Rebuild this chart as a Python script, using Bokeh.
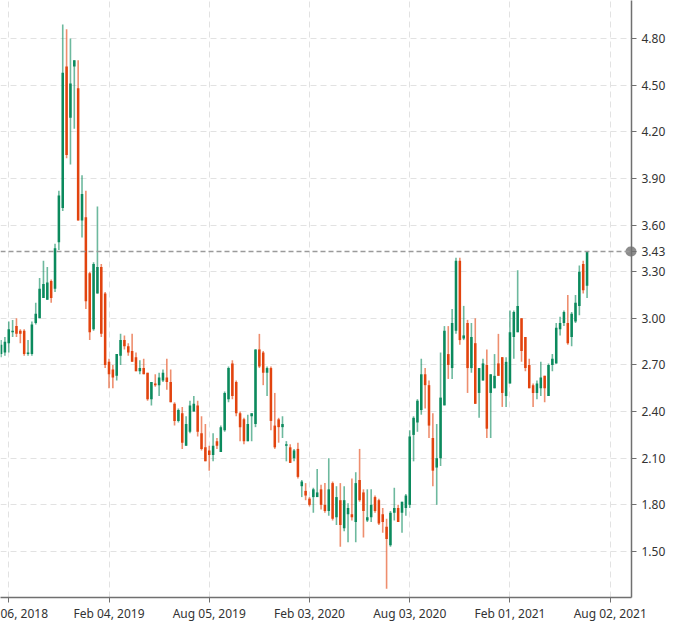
import numpy as np
import pandas as pd
from bokeh.plotting import figure
from bokeh.models import (Range1d, FixedTicker, PrintfTickFormatter,
                          Span, LinearAxis, ColumnDataSource)
from bokeh.embed import file_html
from bokeh.resources import INLINE

# ---------------- data (weekly candles) ----------------
first_week = "2018-07-23"
opens = [2.77, 2.78, 2.84, 2.91, 2.95, 2.92, 2.92, 2.77, 2.77, 2.97,
         3.00, 3.13, 3.12, 3.24, 3.19, 3.49, 3.71, 4.62, 4.29, 4.62,
         4.48, 3.63, 3.65, 3.29, 2.93, 3.16, 3.33, 3.16, 2.72, 2.67,
         2.63, 2.76, 2.86, 2.82, 2.79, 2.75, 2.66, 2.68, 2.65, 2.48,
         2.58, 2.57, 2.60, 2.62, 2.59, 2.45, 2.34, 2.39, 2.18, 2.27,
         2.40, 2.44, 2.26, 2.17, 2.15, 2.12, 2.21, 2.14, 2.28, 2.48,
         2.71, 2.59, 2.39, 2.35, 2.21, 2.37, 2.32, 2.80, 2.78, 2.65,
         2.68, 2.31, 2.35, 2.30, 2.18, 2.17, 2.10, 2.16, 1.92, 1.89,
         1.84, 1.85, 1.85, 1.90, 1.80, 1.76, 1.94, 1.72, 1.83, 1.65,
         1.74, 1.74, 1.69, 1.96, 1.88, 1.70, 1.72, 1.85, 1.83, 1.74,
         1.66, 1.54, 1.75, 1.78, 1.75, 1.78, 1.80, 2.25, 2.33, 2.41,
         2.64, 2.57, 2.23, 2.04, 2.10, 2.44, 2.77, 2.68, 2.92, 3.37,
         2.87, 2.97, 2.68, 2.84, 2.52, 2.60, 2.70, 2.52, 2.55, 2.71,
         2.75, 2.50, 2.58, 2.88, 2.91, 3.00, 2.88, 2.70, 2.57, 2.52,
         2.55, 2.63, 2.50, 2.70, 2.71, 2.93, 2.97, 2.97, 2.88, 2.98,
         3.08, 3.35, 3.21]
highs = [2.86, 2.88, 2.98, 2.99, 3.00, 2.93, 2.93, 2.86, 2.98, 3.10,
         3.26, 3.37, 3.33, 3.25, 3.48, 3.82, 4.89, 4.86, 4.80, 4.66,
         4.66, 3.92, 3.82, 3.30, 3.36, 3.72, 3.35, 3.17, 2.74, 2.70,
         2.77, 2.90, 2.89, 2.84, 2.90, 2.78, 2.73, 2.74, 2.65, 2.59,
         2.64, 2.65, 2.67, 2.74, 2.67, 2.46, 2.42, 2.43, 2.37, 2.47,
         2.50, 2.47, 2.37, 2.32, 2.18, 2.26, 2.23, 2.31, 2.53, 2.69,
         2.73, 2.60, 2.40, 2.36, 2.38, 2.39, 2.80, 2.90, 2.79, 2.69,
         2.69, 2.52, 2.36, 2.37, 2.21, 2.19, 2.16, 2.20, 1.96, 1.94,
         1.85, 1.91, 2.03, 1.93, 1.94, 2.10, 1.95, 1.92, 1.94, 1.92,
         1.81, 1.97, 2.01, 2.16, 1.90, 1.90, 1.90, 1.86, 1.84, 1.78,
         1.71, 1.76, 1.91, 1.80, 1.82, 1.87, 2.28, 2.37, 2.48, 2.74,
         2.68, 2.60, 2.39, 2.32, 2.78, 2.95, 2.95, 3.06, 3.39, 3.39,
         3.08, 2.99, 2.97, 3.00, 2.68, 2.74, 2.80, 2.64, 2.77, 2.90,
         2.75, 2.75, 3.05, 3.05, 3.31, 3.00, 2.88, 2.74, 2.58, 2.60,
         2.72, 2.63, 2.71, 2.77, 2.97, 3.01, 3.05, 3.15, 3.04, 3.15,
         3.34, 3.37, 3.43]
lows = [2.75, 2.76, 2.78, 2.88, 2.88, 2.84, 2.76, 2.76, 2.76, 2.96,
        3.00, 3.13, 3.12, 3.10, 3.17, 3.44, 3.69, 4.03, 3.99, 4.22,
        3.63, 3.52, 3.06, 2.86, 2.92, 3.16, 2.88, 2.68, 2.55, 2.55,
        2.60, 2.70, 2.80, 2.76, 2.72, 2.66, 2.64, 2.64, 2.47, 2.44,
        2.56, 2.50, 2.59, 2.54, 2.46, 2.31, 2.33, 2.16, 2.18, 2.26,
        2.40, 2.24, 2.15, 2.08, 2.02, 2.08, 2.16, 2.14, 2.27, 2.46,
        2.48, 2.37, 2.21, 2.19, 2.21, 2.21, 2.30, 2.68, 2.57, 2.50,
        2.28, 2.16, 2.20, 2.23, 2.08, 2.07, 2.08, 1.97, 1.85, 1.83,
        1.79, 1.75, 1.85, 1.77, 1.75, 1.73, 1.70, 1.67, 1.53, 1.63,
        1.56, 1.70, 1.56, 1.82, 1.59, 1.69, 1.69, 1.75, 1.67, 1.62,
        1.26, 1.53, 1.70, 1.69, 1.62, 1.73, 1.78, 2.08, 2.27, 2.38,
        2.42, 2.23, 1.92, 1.80, 2.05, 2.44, 2.61, 2.61, 2.90, 2.83,
        2.86, 2.52, 2.65, 2.45, 2.36, 2.60, 2.23, 2.23, 2.55, 2.63,
        2.43, 2.43, 2.58, 2.74, 2.91, 2.72, 2.66, 2.55, 2.43, 2.48,
        2.50, 2.46, 2.50, 2.66, 2.71, 2.89, 2.95, 2.83, 2.82, 2.97,
        3.02, 3.16, 3.13]
closes = [2.83, 2.85, 2.93, 2.92, 2.90, 2.90, 2.77, 2.78, 2.96, 3.03,
          3.19, 3.22, 3.23, 3.13, 3.45, 3.79, 4.58, 4.05, 4.51, 4.66,
          3.63, 3.80, 3.11, 2.91, 3.35, 3.33, 2.90, 2.70, 2.64, 2.62,
          2.77, 2.86, 2.82, 2.78, 2.72, 2.66, 2.68, 2.64, 2.48, 2.59,
          2.57, 2.62, 2.65, 2.59, 2.46, 2.34, 2.41, 2.20, 2.32, 2.44,
          2.45, 2.27, 2.16, 2.08, 2.12, 2.18, 2.18, 2.30, 2.52, 2.68,
          2.50, 2.39, 2.30, 2.21, 2.32, 2.39, 2.80, 2.69, 2.65, 2.68,
          2.34, 2.17, 2.30, 2.32, 2.19, 2.07, 2.15, 1.98, 1.95, 1.86,
          1.80, 1.90, 1.88, 1.80, 1.76, 1.90, 1.71, 1.85, 1.67, 1.83,
          1.78, 1.72, 1.94, 1.83, 1.76, 1.72, 1.80, 1.76, 1.68, 1.69,
          1.58, 1.75, 1.78, 1.69, 1.82, 1.86, 2.24, 2.36, 2.47, 2.64,
          2.57, 2.31, 2.02, 2.10, 2.49, 2.92, 2.70, 2.97, 3.37, 2.86,
          2.89, 2.68, 2.88, 2.45, 2.68, 2.71, 2.29, 2.64, 2.63, 2.63,
          2.52, 2.72, 2.91, 3.04, 3.08, 2.79, 2.68, 2.55, 2.52, 2.58,
          2.62, 2.55, 2.70, 2.74, 2.94, 2.97, 3.04, 2.84, 3.03, 3.10,
          3.30, 3.18, 3.43]

x_tick_dates = ["2018-08-06", "2019-02-04", "2019-08-05", "2020-02-03",
                "2020-08-03", "2021-02-01", "2021-08-02"]
# first label is cut at the left edge of the chart, as in the picture
x_tick_labels = ["06, 2018", "Feb 04, 2019", "Aug 05, 2019", "Feb 03, 2020",
                 "Aug 03, 2020", "Feb 01, 2021", "Aug 02, 2021"]
y_ticks = [1.50, 1.80, 2.10, 2.40, 2.70, 3.00, 3.30, 3.60, 3.90, 4.20, 4.50, 4.80]
x_view = ("2018-07-22 00:00", "2021-09-09 16:00")
y_view = (1.2041, 5.0445)

# ---------------- build ----------------
GREEN = "#0b8a5d"
RED = "#e2430e"
DAY = 86400000.0

def to_ms(s):
    return pd.Timestamp(s).value / 1e6

dates = pd.date_range(first_week, periods=len(closes), freq="7D")
o = np.array(opens); h = np.array(highs); l = np.array(lows); c = np.array(closes)
up = c >= o
colors = [GREEN if u else RED for u in up]
src = ColumnDataSource(dict(
    x=[d.value / 1e6 for d in dates], open=o, high=h, low=l, close=c,
    top=np.maximum(o, c), bottom=np.minimum(o, c), color=colors))

FW, FH = 631, 597
x0, x1 = to_ms(x_view[0]), to_ms(x_view[1])
p = figure(x_axis_type="datetime", y_axis_location="right",
           frame_width=FW, frame_height=FH,
           x_range=Range1d(x0, x1), y_range=Range1d(*y_view),
           output_backend="svg", toolbar_location=None,
           min_border_left=0, min_border_top=0, min_border_bottom=0, min_border_right=4,
           background_fill_color="white", border_fill_color="white",
           outline_line_color=None)

p.segment(x0="x", y0="low", x1="x", y1="high", source=src,
          line_color="color", line_width=1.6, line_alpha=0.6)
p.vbar(x="x", width=4.6 * DAY, top="top", bottom="bottom", source=src,
       fill_color="color", line_color=None)

tick_ms = [int(to_ms(d)) for d in x_tick_dates]
last_price = closes[-1]

p.xaxis.ticker = FixedTicker(ticks=tick_ms)
p.xgrid.ticker = FixedTicker(ticks=tick_ms)
p.xaxis.major_label_overrides = {t: lab for t, lab in zip(tick_ms, x_tick_labels)}
p.yaxis.ticker = FixedTicker(ticks=y_ticks + [last_price])
p.ygrid.ticker = FixedTicker(ticks=y_ticks)
p.yaxis.formatter = PrintfTickFormatter(format="%.2f")

for ax in (p.xaxis, p.yaxis):
    ax.axis_line_color = "#707070"
    ax.axis_line_width = 1.5
    ax.major_tick_line_color = "#707070"
    ax.major_tick_out = 5
    ax.major_tick_in = 0
    ax.minor_tick_line_color = None
    ax.major_label_text_font = "Noto Sans"
    ax.major_label_text_font_size = "12px"
    ax.major_label_text_color = "#333333"
p.xaxis.major_label_standoff = 2
p.yaxis.major_label_standoff = 5

for g in (p.xgrid, p.ygrid):
    g.grid_line_color = "#e2e2e2"
    g.grid_line_dash = "6 4"
    g.grid_line_width = 1

p.add_layout(Span(location=last_price, dimension="width", line_color="#9a9a9a",
                  line_dash="5 3", line_width=1.5))

# marker dot on the axis at the last price: a single round-capped tick of a
# label-less axis that sits right at the frame edge
dot_axis = LinearAxis(ticker=FixedTicker(ticks=[last_price]),
                      axis_line_color=None, minor_tick_line_color=None,
                      major_tick_line_color="#8c8c8c", major_tick_line_width=10,
                      major_tick_line_cap="round", major_tick_in=1, major_tick_out=0,
                      major_label_standoff=0, major_label_text_font_size="0px",
                      major_label_overrides={last_price: ""})
p.right = [dot_axis] + list(p.right)

open("out.html", "w").write(file_html(p, INLINE))
